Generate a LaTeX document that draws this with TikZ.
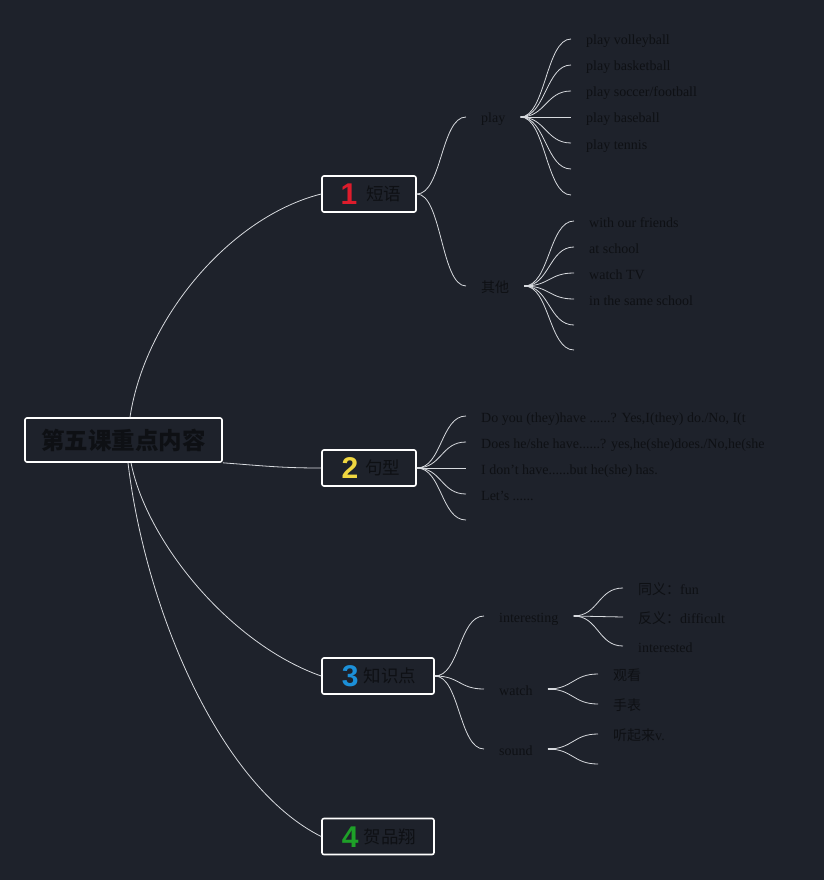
\documentclass[tikz,border=0pt]{standalone}
\usepackage{fontspec}
\setmainfont{Liberation Serif}
\newfontfamily\cjk{Noto Sans CJK SC}
\newfontfamily\numfont{Liberation Sans}
\definecolor{bg}{RGB}{30,34,43}
\definecolor{ink}{RGB}{14,16,20}
\definecolor{wire}{RGB}{215,218,222}
\definecolor{bred}{RGB}{222,28,44}
\definecolor{byel}{RGB}{240,214,64}
\definecolor{bblue}{RGB}{28,144,216}
\definecolor{bgreen}{RGB}{30,160,40}
\newcommand\badge[2]{{\numfont\bfseries\fontsize{30}{30}\selectfont\color{#1}\smash{\raisebox{-4pt}{#2}}}}
\newcommand\cz[1]{{\cjk\fontsize{14}{14}\selectfont #1}}
\newcommand\brc[2]{\draw[br] (#1) .. controls +(25,0) and +(-25,0) .. (#2);}
\tikzset{
  br/.style={draw=wire, line width=0.8pt},
  stub/.style={draw=wire, line width=2.2pt},
  rootbox/.style={draw=white, line width=1.6pt, rounded corners=2pt, fill=bg,
    minimum width=197pt, minimum height=44pt, inner sep=0pt, text=ink,
    font=\cjk\bfseries\fontsize{23.5}{23.5}\selectfont},
  catbox/.style={draw=white, line width=1.6pt, rounded corners=2pt, fill=bg,
    minimum height=36pt, inner sep=0pt, text=ink,
    font=\cjk\fontsize{17.5}{17.5}\selectfont},
  lab/.style={anchor=west, inner xsep=15pt, inner ysep=0pt, text=ink,
    text height=15pt, text depth=3pt,
    font=\fontsize{14}{14}\selectfont},
}
\begin{document}
\begin{tikzpicture}[x=1pt,y=-1pt]
\fill[bg] (0,0) rectangle (824,880);
\useasboundingbox (0,0) rectangle (824,880);

% root and categories
\node[rootbox] (root) at (123.5,440) {第五课重点内容};
\node[catbox, minimum width=94pt] (c1) at (369,194) {\hspace{4pt}\badge{bred}{1}\hspace{9pt}短语};
\node[catbox, minimum width=94pt] (c2) at (369,468) {\hspace{4pt}\badge{byel}{2}\hspace{7pt}句型};
\node[catbox, minimum width=112pt] (c3) at (378,676) {\hspace{2pt}\badge{bblue}{3}\hspace{5pt}知识点};
\node[catbox, minimum width=112pt] (c4) at (378,836.5) {\hspace{2pt}\badge{bgreen}{4}\hspace{5pt}贺品翔};

\draw[br] ([xshift=6.5pt]root.north) .. controls +(15,-100) and +(-90,22.5) .. (c1.west);
\draw[br] (root.south east) .. controls +(40,3) and +(-40,0) .. (c2.west);
\draw[br] ([xshift=7.5pt]root.south) .. controls +(16,80) and +(-90,-31.5) .. (c3.west);
\draw[br] ([xshift=4.5pt]root.south) .. controls +(18,150) and +(-100,-50) .. (c4.west);

% branch 1
\node[lab] (play) at (466,117) {play};
\node[lab] (other) at (466,286) {\cz{其他}};
\brc{c1.east}{play.west}
\brc{c1.east}{other.west}

\node[lab] (p1) at (571,39) {play volleyball};
\node[lab] (p2) at (571,65) {play basketball};
\node[lab] (p3) at (571,91) {play soccer/football};
\node[lab] (p4) at (571,117) {play baseball};
\node[lab] (p5) at (571,143) {play tennis};
\coordinate (p6) at (571,169);
\coordinate (p7) at (571,195);
\foreach \t in {p1.west,p2.west,p3.west,p4.west,p5.west,p6,p7} {\brc{play.east}{\t}}
\draw[stub] (play.east) -- +(7,0);

\node[lab] (o1) at (574,221) {with our friends};
\node[lab] (o2) at (574,247) {at school};
\node[lab] (o3) at (574,273) {watch TV};
\node[lab] (o4) at (574,299) {in the same school};
\coordinate (o5) at (574,325);
\coordinate (o6) at (574,350);
\foreach \t in {o1.west,o2.west,o3.west,o4.west,o5,o6} {\brc{other.east}{\t}}
\draw[stub] (other.east) -- +(7,0);

% branch 2
\node[lab] (s1) at (466,416) {Do you (they)have ......? Yes,I(they) do./No, I(t};
\node[lab] (s2) at (466,442) {Does he/she have......? yes,he(she)does./No,he(she};
\node[lab] (s3) at (466,468) {I don't have......but he(she) has.};
\node[lab] (s4) at (466,494) {Let's ......};
\coordinate (s5) at (466,520);
\foreach \t in {s1.west,s2.west,s3.west,s4.west,s5} {\brc{c2.east}{\t}}
\draw[stub] (c2.east) -- +(6,0);

% branch 3
\node[lab] (k1) at (484,616) {interesting};
\node[lab] (k2) at (484,689) {watch};
\node[lab] (k3) at (484,749) {sound};
\foreach \t in {k1,k2,k3} {\brc{c3.east}{\t.west}}
\draw[stub] (c3.east) -- +(5,0);

\node[lab] (i1) at (623,588) {\cz{同义：}fun};
\node[lab] (i2) at (623,617) {\cz{反义：}difficult};
\node[lab] (i3) at (623,646) {interested};
\foreach \t in {i1,i2,i3} {\brc{k1.east}{\t.west}}
\draw[stub] (k1.east) -- +(6,0);

\node[lab] (w1) at (598,674) {\cz{观看}};
\node[lab] (w2) at (598,704) {\cz{手表}};
\foreach \t in {w1,w2} {\brc{k2.east}{\t.west}}
\draw[stub] (k2.east) -- +(6,0);

\node[lab] (d1) at (598,734) {\cz{听起来}v.};
\coordinate (d2) at (598,764);
\brc{k3.east}{d1.west}
\brc{k3.east}{d2}
\draw[stub] (k3.east) -- +(6,0);
\end{tikzpicture}
\end{document}
